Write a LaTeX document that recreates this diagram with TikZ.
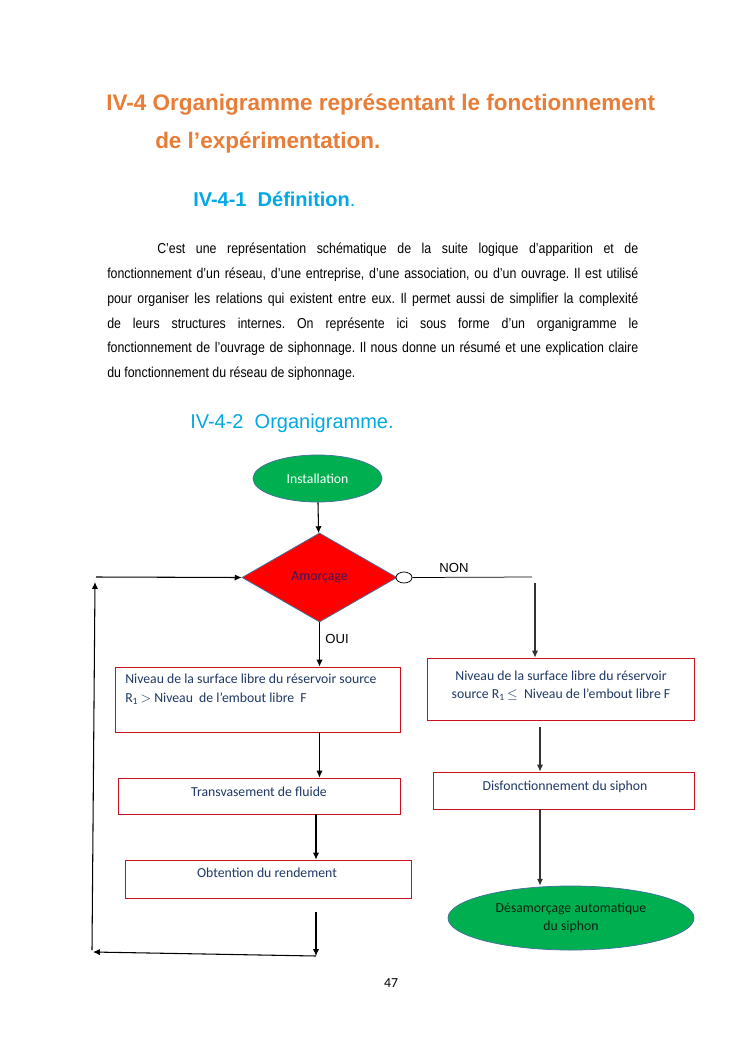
\documentclass[tikz,border=0pt]{standalone}
\usepackage{fontspec}
\setmainfont{Liberation Sans}
\newfontfamily\chartfont{Carlito}
\newfontfamily\narrowfont{Liberation Sans}[FakeStretch=0.86]
\usetikzlibrary{arrows.meta,shapes.geometric}
\frenchspacing

\definecolor{titleorange}{RGB}{232,125,55}
\definecolor{headblue}{RGB}{0,168,228}
\definecolor{termgreen}{RGB}{0,176,80}
\definecolor{edgeblue}{RGB}{65,113,156}
\definecolor{boxred}{RGB}{200,16,30}
\definecolor{navytext}{RGB}{31,56,100}
\definecolor{decpurple}{RGB}{60,25,90}
\definecolor{darkgreentext}{RGB}{15,35,20}

\tikzset{
  terminal/.style={ellipse, fill=termgreen, draw=edgeblue, line width=0.6pt, inner sep=0pt,
    font=\chartfont\fontsize{11}{14}\selectfont, align=center},
  decision/.style={diamond, fill=red, draw=edgeblue, line width=0.6pt, inner sep=0pt,
    font=\chartfont\fontsize{11}{14}\selectfont, text=decpurple},
  stepbox/.style={draw=boxred, line width=0.7pt, fill=white, inner sep=0pt},
  boxtext/.style={inner sep=0pt, font=\chartfont\fontsize{11}{14.6}\selectfont, text=navytext},
  flow/.style={-{Latex[length=5.5pt,width=5pt]}, line width=0.85pt},
  branch/.style={font=\fontsize{10.5}{12}\selectfont, inner sep=0pt},
}

\begin{document}
\begin{tikzpicture}[x=0.8pt,y=-0.8pt]
  \useasboundingbox (0,0) rectangle (745,1053);
  \fill[white] (0,0) rectangle (745,1053);

  % headings and definition text
  \node[anchor=base west, inner sep=0pt, text=titleorange, font=\bfseries\fontsize{18}{22}\selectfont]
    (title1) at (106,110) {IV-4 Organigramme représentant le fonctionnement};
  \node[anchor=base west, inner sep=0pt, text=titleorange, font=\bfseries\fontsize{18}{22}\selectfont]
    (title2) at (155,148) {de l’expérimentation.};
  \node[anchor=base west, inner sep=0pt, text=headblue, font=\bfseries\fontsize{16}{20}\selectfont]
    (sec1) at (193,206) {IV-4-1\ \ Définition\textmd{.}};
  \node[anchor=north west, inner sep=0pt, text width=424.8pt, align=justify,
    font=\narrowfont\fontsize{11.5}{19.8}\selectfont]
    (defpara) at (107,243) {\tolerance=10000 \hspace*{40pt}C’est une représentation schématique de la suite logique d’apparition et de\linebreak
    fonctionnement d’un réseau, d’une entreprise, d’une association, ou d’un ouvrage. Il est utilisé\linebreak
    pour organiser les relations qui existent entre eux. Il permet aussi de simplifier la complexité\linebreak
    de leurs structures internes. On représente ici sous forme d’un organigramme le\linebreak
    fonctionnement de l’ouvrage de siphonnage. Il nous donne un résumé et une explication claire\linebreak
    du fonctionnement du réseau de siphonnage.};
  \node[anchor=base west, inner sep=0pt, text=headblue, font=\fontsize{16}{20}\selectfont]
    (sec2) at (190,428) {IV-4-2\ \ Organigramme.};

  % flowchart
  \node[terminal, text=white, minimum width=103.2pt, minimum height=37.6pt]
    (start) at (317.5,478.5) {Installation};
  \node[decision, minimum width=124pt, minimum height=71.2pt]
    (dec) at (319.5,577.5) {\raisebox{3pt}{Amorçage}};
  \node[ellipse, draw=black, fill=white, line width=0.6pt, inner sep=0pt,
    minimum width=12.8pt, minimum height=8.8pt] (nocirc) at (404,577.5) {};

  \node[stepbox, minimum width=228pt, minimum height=52pt] (oui1) at (257.5,699.5) {};
  \node[boxtext, anchor=north west, align=left] (oui1txt) at (125,674)
    {Niveau de la surface libre du réservoir source\\
     R\textsubscript{1}\,$>$ Niveau\ \ de l’embout libre\ \ F};
  \node[stepbox, minimum width=225.6pt, minimum height=28.8pt] (oui2) at (259,796) {};
  \node[boxtext] (oui2txt) at (259,792) {Transvasement de fluide};
  \node[stepbox, minimum width=228.8pt, minimum height=30.4pt] (oui3) at (268,879) {};
  \node[boxtext] (oui3txt) at (267,873) {Obtention du rendement};

  \node[stepbox, minimum width=213.6pt, minimum height=49.6pt] (non1) at (560.5,689) {};
  \node[boxtext, align=center] (non1txt) at (561,685.5)
    {Niveau de la surface libre du réservoir\\
     source R\textsubscript{1}\,$\leq$\ \ Niveau de l’embout libre F};
  \node[stepbox, minimum width=208.8pt, minimum height=29.6pt] (non2) at (563.5,790.5) {};
  \node[boxtext] (non2txt) at (565,787) {Disfonctionnement du siphon};
  \node[terminal, text=darkgreentext, minimum width=196.8pt, minimum height=51.2pt]
    (stop) at (571,918) {Désamorçage automatique\\du siphon};

  \node[branch] (nonlbl) at (454,568) {NON};
  \node[branch] (ouilbl) at (337,639) {OUI};
  \node[font=\chartfont\fontsize{11}{13}\selectfont, inner sep=0pt] (pagenum) at (391,983) {47};

  % lanes and loop corners
  \coordinate (lane) at (316,0);
  \coordinate (rlane) at (540,0);
  \coordinate (nonend) at (532,577);
  \coordinate (nondown) at (535,583);
  \coordinate (loopa) at (316,912);
  \coordinate (loopb) at (316,956);
  \coordinate (loopc) at (93,952);
  \coordinate (loopd) at (92,950);
  \coordinate (loope) at (95,582);
  \coordinate (loopf) at (96,577);

  % connectors
  \draw[flow] (start) -- (dec);
  \draw[line width=0.6pt] (nocirc.east) -- (nonend);
  \draw[flow, draw=black!80] (nondown) -- (nondown |- non1.north);
  \draw[flow] (dec.south) -- (dec.south |- oui1.north);
  \draw[flow] (oui1.south -| dec.south) -- (oui2.north -| dec.south);
  \draw[flow] (oui2.south -| lane) -- (oui3.north -| lane);
  \draw[flow] (loopa) -- (loopb);
  \draw[flow] (loopb) -- (loopc);
  \draw[flow] (loopd) -- (loope);
  \draw[flow] (loopf) -- (dec.west);
  \draw[flow, draw=black!80] ([yshift=-5.6pt]non1.south -| rlane) -- (non2.north -| rlane);
  \draw[flow, draw=black!80] (non2.south -| rlane) -- (rlane |- stop.north);
\end{tikzpicture}
\end{document}
